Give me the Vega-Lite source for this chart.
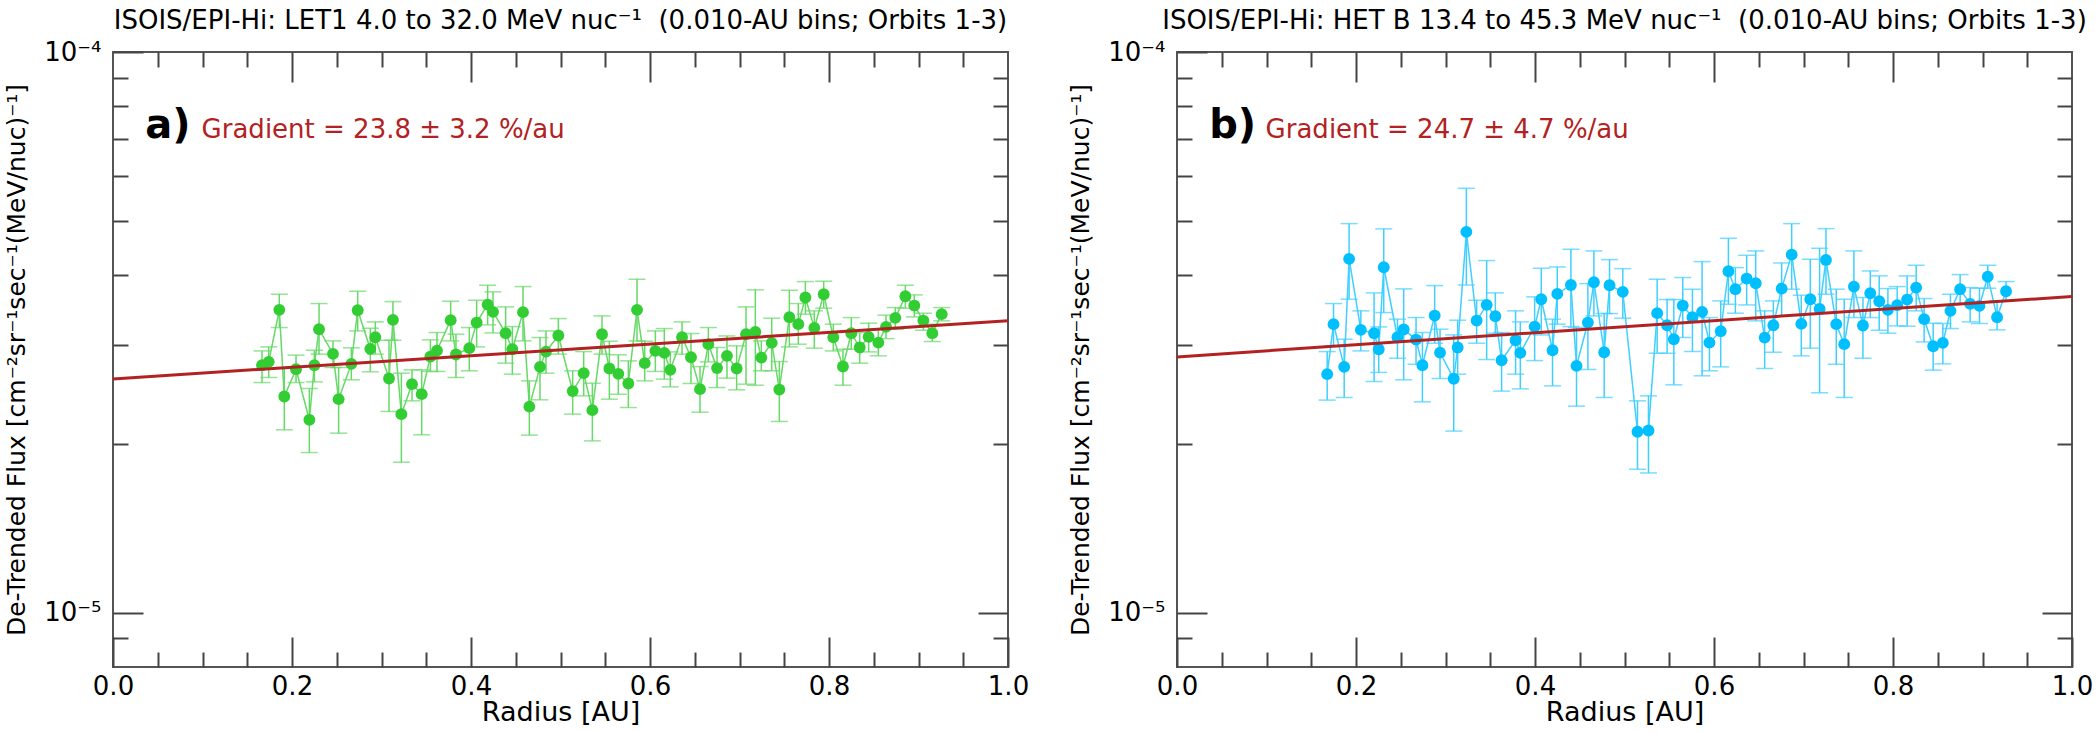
{
  "$schema": "https://vega.github.io/schema/vega-lite/v6.json",
  "background": "white",
  "padding": {"left": 3, "top": 7, "right": 5, "bottom": 0},
  "spacing": 169,
  "bounds": "flush",
  "datasets": {
    "let": [
      {"r": 0.1665, "flux": 2.763e-5, "lo": 2.573e-5, "hi": 2.930e-5},
      {"r": 0.1740, "flux": 2.801e-5, "lo": 2.627e-5, "hi": 2.979e-5},
      {"r": 0.1858, "flux": 3.468e-5, "lo": 3.225e-5, "hi": 3.698e-5},
      {"r": 0.1914, "flux": 2.430e-5, "lo": 2.119e-5, "hi": 2.737e-5},
      {"r": 0.2045, "flux": 2.718e-5, "lo": 2.573e-5, "hi": 2.879e-5},
      {"r": 0.2194, "flux": 2.208e-5, "lo": 1.930e-5, "hi": 2.511e-5},
      {"r": 0.2250, "flux": 2.763e-5, "lo": 2.580e-5, "hi": 2.938e-5},
      {"r": 0.2302, "flux": 3.203e-5, "lo": 2.891e-5, "hi": 3.559e-5},
      {"r": 0.2458, "flux": 2.894e-5, "lo": 2.737e-5, "hi": 3.053e-5},
      {"r": 0.2521, "flux": 2.403e-5, "lo": 2.090e-5, "hi": 2.737e-5},
      {"r": 0.2663, "flux": 2.778e-5, "lo": 2.602e-5, "hi": 2.967e-5},
      {"r": 0.2734, "flux": 3.463e-5, "lo": 3.181e-5, "hi": 3.744e-5},
      {"r": 0.2875, "flux": 2.955e-5, "lo": 2.689e-5, "hi": 3.216e-5},
      {"r": 0.2931, "flux": 3.099e-5, "lo": 2.891e-5, "hi": 3.301e-5},
      {"r": 0.3084, "flux": 2.616e-5, "lo": 2.285e-5, "hi": 3.061e-5},
      {"r": 0.3128, "flux": 3.328e-5, "lo": 3.061e-5, "hi": 3.588e-5},
      {"r": 0.3222, "flux": 2.260e-5, "lo": 1.855e-5, "hi": 2.674e-5},
      {"r": 0.3341, "flux": 2.556e-5, "lo": 2.387e-5, "hi": 2.711e-5},
      {"r": 0.3449, "flux": 2.453e-5, "lo": 2.076e-5, "hi": 2.711e-5},
      {"r": 0.3546, "flux": 2.863e-5, "lo": 2.693e-5, "hi": 3.066e-5},
      {"r": 0.3620, "flux": 2.934e-5, "lo": 2.693e-5, "hi": 3.160e-5},
      {"r": 0.3773, "flux": 3.324e-5, "lo": 3.053e-5, "hi": 3.593e-5},
      {"r": 0.3832, "flux": 2.887e-5, "lo": 2.627e-5, "hi": 3.138e-5},
      {"r": 0.3981, "flux": 2.963e-5, "lo": 2.700e-5, "hi": 3.225e-5},
      {"r": 0.4063, "flux": 3.292e-5, "lo": 2.979e-5, "hi": 3.608e-5},
      {"r": 0.4186, "flux": 3.544e-5, "lo": 3.261e-5, "hi": 3.837e-5},
      {"r": 0.4246, "flux": 3.440e-5, "lo": 3.155e-5, "hi": 3.734e-5},
      {"r": 0.4387, "flux": 3.151e-5, "lo": 2.786e-5, "hi": 3.511e-5},
      {"r": 0.4462, "flux": 2.950e-5, "lo": 2.663e-5, "hi": 3.238e-5},
      {"r": 0.4581, "flux": 3.435e-5, "lo": 3.053e-5, "hi": 3.816e-5},
      {"r": 0.4652, "flux": 2.331e-5, "lo": 2.073e-5, "hi": 2.591e-5},
      {"r": 0.4771, "flux": 2.744e-5, "lo": 2.397e-5, "hi": 3.095e-5},
      {"r": 0.4838, "flux": 2.922e-5, "lo": 2.674e-5, "hi": 3.181e-5},
      {"r": 0.4976, "flux": 3.121e-5, "lo": 2.891e-5, "hi": 3.346e-5},
      {"r": 0.5136, "flux": 2.484e-5, "lo": 2.260e-5, "hi": 2.700e-5},
      {"r": 0.5259, "flux": 2.674e-5, "lo": 2.436e-5, "hi": 2.922e-5},
      {"r": 0.5356, "flux": 2.297e-5, "lo": 2.025e-5, "hi": 2.566e-5},
      {"r": 0.5464, "flux": 3.138e-5, "lo": 2.891e-5, "hi": 3.383e-5},
      {"r": 0.5546, "flux": 2.726e-5, "lo": 2.403e-5, "hi": 3.049e-5},
      {"r": 0.5646, "flux": 2.667e-5, "lo": 2.453e-5, "hi": 2.883e-5},
      {"r": 0.5758, "flux": 2.563e-5, "lo": 2.322e-5, "hi": 2.813e-5},
      {"r": 0.5855, "flux": 3.468e-5, "lo": 3.053e-5, "hi": 3.933e-5},
      {"r": 0.5941, "flux": 2.786e-5, "lo": 2.591e-5, "hi": 3.049e-5},
      {"r": 0.6060, "flux": 2.930e-5, "lo": 2.693e-5, "hi": 3.181e-5},
      {"r": 0.6160, "flux": 2.906e-5, "lo": 2.609e-5, "hi": 3.212e-5},
      {"r": 0.6227, "flux": 2.711e-5, "lo": 2.528e-5, "hi": 2.918e-5},
      {"r": 0.6358, "flux": 3.099e-5, "lo": 2.891e-5, "hi": 3.301e-5},
      {"r": 0.6458, "flux": 2.855e-5, "lo": 2.563e-5, "hi": 3.147e-5},
      {"r": 0.6559, "flux": 2.504e-5, "lo": 2.278e-5, "hi": 2.748e-5},
      {"r": 0.6652, "flux": 3.012e-5, "lo": 2.801e-5, "hi": 3.225e-5},
      {"r": 0.6749, "flux": 2.730e-5, "lo": 2.521e-5, "hi": 2.971e-5},
      {"r": 0.6860, "flux": 2.871e-5, "lo": 2.620e-5, "hi": 3.116e-5},
      {"r": 0.6968, "flux": 2.726e-5, "lo": 2.497e-5, "hi": 2.991e-5},
      {"r": 0.7073, "flux": 3.138e-5, "lo": 2.556e-5, "hi": 3.511e-5},
      {"r": 0.7177, "flux": 3.168e-5, "lo": 2.545e-5, "hi": 3.765e-5},
      {"r": 0.7244, "flux": 2.851e-5, "lo": 2.700e-5, "hi": 3.053e-5},
      {"r": 0.7360, "flux": 3.028e-5, "lo": 2.700e-5, "hi": 3.351e-5},
      {"r": 0.7445, "flux": 2.500e-5, "lo": 2.193e-5, "hi": 2.805e-5},
      {"r": 0.7557, "flux": 3.365e-5, "lo": 2.979e-5, "hi": 3.759e-5},
      {"r": 0.7657, "flux": 3.270e-5, "lo": 3.012e-5, "hi": 3.559e-5},
      {"r": 0.7736, "flux": 3.648e-5, "lo": 3.407e-5, "hi": 3.895e-5},
      {"r": 0.7836, "flux": 3.221e-5, "lo": 2.963e-5, "hi": 3.454e-5},
      {"r": 0.7941, "flux": 3.698e-5, "lo": 3.492e-5, "hi": 3.901e-5},
      {"r": 0.8048, "flux": 3.099e-5, "lo": 2.930e-5, "hi": 3.270e-5},
      {"r": 0.8156, "flux": 2.748e-5, "lo": 2.545e-5, "hi": 2.950e-5},
      {"r": 0.8249, "flux": 3.151e-5, "lo": 2.950e-5, "hi": 3.360e-5},
      {"r": 0.8343, "flux": 2.971e-5, "lo": 2.786e-5, "hi": 3.160e-5},
      {"r": 0.8443, "flux": 3.104e-5, "lo": 2.918e-5, "hi": 3.283e-5},
      {"r": 0.8551, "flux": 3.032e-5, "lo": 2.871e-5, "hi": 3.203e-5},
      {"r": 0.8637, "flux": 3.234e-5, "lo": 3.082e-5, "hi": 3.393e-5},
      {"r": 0.8741, "flux": 3.355e-5, "lo": 3.203e-5, "hi": 3.501e-5},
      {"r": 0.8853, "flux": 3.668e-5, "lo": 3.492e-5, "hi": 3.837e-5},
      {"r": 0.8953, "flux": 3.530e-5, "lo": 3.369e-5, "hi": 3.688e-5},
      {"r": 0.9054, "flux": 3.319e-5, "lo": 3.190e-5, "hi": 3.421e-5},
      {"r": 0.9154, "flux": 3.151e-5, "lo": 3.045e-5, "hi": 3.270e-5},
      {"r": 0.9259, "flux": 3.407e-5, "lo": 3.315e-5, "hi": 3.501e-5}
    ],
    "het": [
      {"r": 0.1678, "flux": 2.663e-5, "lo": 2.394e-5, "hi": 2.922e-5},
      {"r": 0.1749, "flux": 3.270e-5, "lo": 2.991e-5, "hi": 3.559e-5},
      {"r": 0.1868, "flux": 2.744e-5, "lo": 2.420e-5, "hi": 3.074e-5},
      {"r": 0.1923, "flux": 4.275e-5, "lo": 3.623e-5, "hi": 4.942e-5},
      {"r": 0.2054, "flux": 3.194e-5, "lo": 2.930e-5, "hi": 3.454e-5},
      {"r": 0.2202, "flux": 3.151e-5, "lo": 2.584e-5, "hi": 3.718e-5},
      {"r": 0.2254, "flux": 2.950e-5, "lo": 2.682e-5, "hi": 3.234e-5},
      {"r": 0.2310, "flux": 4.131e-5, "lo": 3.430e-5, "hi": 4.836e-5},
      {"r": 0.2463, "flux": 3.099e-5, "lo": 2.843e-5, "hi": 3.338e-5},
      {"r": 0.2533, "flux": 3.199e-5, "lo": 2.602e-5, "hi": 3.780e-5},
      {"r": 0.2671, "flux": 3.070e-5, "lo": 2.774e-5, "hi": 3.360e-5},
      {"r": 0.2742, "flux": 2.763e-5, "lo": 2.377e-5, "hi": 3.160e-5},
      {"r": 0.2879, "flux": 3.388e-5, "lo": 3.024e-5, "hi": 3.832e-5},
      {"r": 0.2939, "flux": 2.910e-5, "lo": 2.616e-5, "hi": 3.203e-5},
      {"r": 0.3092, "flux": 2.613e-5, "lo": 2.108e-5, "hi": 3.129e-5},
      {"r": 0.3136, "flux": 2.971e-5, "lo": 2.663e-5, "hi": 3.324e-5},
      {"r": 0.3233, "flux": 4.776e-5, "lo": 3.841e-5, "hi": 5.713e-5},
      {"r": 0.3348, "flux": 3.319e-5, "lo": 3.024e-5, "hi": 3.608e-5},
      {"r": 0.3460, "flux": 3.539e-5, "lo": 2.828e-5, "hi": 4.246e-5},
      {"r": 0.3557, "flux": 3.379e-5, "lo": 3.151e-5, "hi": 3.718e-5},
      {"r": 0.3627, "flux": 2.820e-5, "lo": 2.484e-5, "hi": 3.160e-5},
      {"r": 0.3783, "flux": 3.061e-5, "lo": 2.663e-5, "hi": 3.454e-5},
      {"r": 0.3836, "flux": 2.906e-5, "lo": 2.507e-5, "hi": 3.301e-5},
      {"r": 0.3996, "flux": 3.238e-5, "lo": 2.816e-5, "hi": 3.658e-5},
      {"r": 0.4070, "flux": 3.623e-5, "lo": 3.129e-5, "hi": 4.114e-5},
      {"r": 0.4196, "flux": 2.938e-5, "lo": 2.538e-5, "hi": 3.338e-5},
      {"r": 0.4249, "flux": 3.703e-5, "lo": 3.270e-5, "hi": 4.136e-5},
      {"r": 0.4401, "flux": 3.841e-5, "lo": 3.238e-5, "hi": 4.448e-5},
      {"r": 0.4464, "flux": 2.755e-5, "lo": 2.335e-5, "hi": 3.225e-5},
      {"r": 0.4591, "flux": 3.292e-5, "lo": 2.715e-5, "hi": 3.863e-5},
      {"r": 0.4658, "flux": 3.885e-5, "lo": 3.383e-5, "hi": 4.418e-5},
      {"r": 0.4773, "flux": 2.914e-5, "lo": 2.420e-5, "hi": 3.416e-5},
      {"r": 0.4833, "flux": 3.837e-5, "lo": 3.416e-5, "hi": 4.263e-5},
      {"r": 0.4981, "flux": 3.734e-5, "lo": 3.351e-5, "hi": 4.108e-5},
      {"r": 0.5145, "flux": 2.102e-5, "lo": 1.802e-5, "hi": 2.387e-5},
      {"r": 0.5268, "flux": 2.113e-5, "lo": 1.775e-5, "hi": 2.436e-5},
      {"r": 0.5365, "flux": 3.421e-5, "lo": 2.902e-5, "hi": 3.933e-5},
      {"r": 0.5476, "flux": 3.256e-5, "lo": 2.902e-5, "hi": 3.618e-5},
      {"r": 0.5551, "flux": 3.074e-5, "lo": 2.549e-5, "hi": 3.618e-5},
      {"r": 0.5651, "flux": 3.530e-5, "lo": 3.095e-5, "hi": 3.960e-5},
      {"r": 0.5759, "flux": 3.365e-5, "lo": 2.922e-5, "hi": 3.775e-5},
      {"r": 0.5867, "flux": 3.440e-5, "lo": 2.645e-5, "hi": 4.228e-5},
      {"r": 0.5949, "flux": 3.032e-5, "lo": 2.700e-5, "hi": 3.360e-5},
      {"r": 0.6075, "flux": 3.177e-5, "lo": 2.744e-5, "hi": 3.598e-5},
      {"r": 0.6161, "flux": 4.064e-5, "lo": 3.549e-5, "hi": 4.653e-5},
      {"r": 0.6239, "flux": 3.775e-5, "lo": 3.421e-5, "hi": 4.125e-5},
      {"r": 0.6365, "flux": 3.944e-5, "lo": 3.539e-5, "hi": 4.339e-5},
      {"r": 0.6466, "flux": 3.868e-5, "lo": 3.315e-5, "hi": 4.418e-5},
      {"r": 0.6566, "flux": 3.095e-5, "lo": 2.726e-5, "hi": 3.454e-5},
      {"r": 0.6663, "flux": 3.256e-5, "lo": 2.914e-5, "hi": 3.598e-5},
      {"r": 0.6756, "flux": 3.785e-5, "lo": 3.383e-5, "hi": 4.205e-5},
      {"r": 0.6868, "flux": 4.351e-5, "lo": 3.775e-5, "hi": 4.942e-5},
      {"r": 0.6975, "flux": 3.274e-5, "lo": 2.871e-5, "hi": 3.683e-5},
      {"r": 0.7076, "flux": 3.623e-5, "lo": 2.963e-5, "hi": 4.269e-5},
      {"r": 0.7180, "flux": 3.482e-5, "lo": 2.467e-5, "hi": 4.466e-5},
      {"r": 0.7251, "flux": 4.257e-5, "lo": 3.698e-5, "hi": 4.842e-5},
      {"r": 0.7366, "flux": 3.270e-5, "lo": 2.774e-5, "hi": 3.775e-5},
      {"r": 0.7455, "flux": 3.012e-5, "lo": 2.420e-5, "hi": 3.623e-5},
      {"r": 0.7563, "flux": 3.816e-5, "lo": 3.360e-5, "hi": 4.418e-5},
      {"r": 0.7664, "flux": 3.252e-5, "lo": 2.843e-5, "hi": 3.648e-5},
      {"r": 0.7746, "flux": 3.713e-5, "lo": 3.360e-5, "hi": 4.069e-5},
      {"r": 0.7846, "flux": 3.593e-5, "lo": 3.190e-5, "hi": 3.987e-5},
      {"r": 0.7943, "flux": 3.468e-5, "lo": 3.151e-5, "hi": 3.785e-5},
      {"r": 0.8047, "flux": 3.535e-5, "lo": 3.247e-5, "hi": 3.816e-5},
      {"r": 0.8158, "flux": 3.618e-5, "lo": 3.243e-5, "hi": 3.987e-5},
      {"r": 0.8259, "flux": 3.800e-5, "lo": 3.454e-5, "hi": 4.165e-5},
      {"r": 0.8348, "flux": 3.338e-5, "lo": 3.040e-5, "hi": 3.633e-5},
      {"r": 0.8449, "flux": 2.987e-5, "lo": 2.707e-5, "hi": 3.283e-5},
      {"r": 0.8557, "flux": 3.028e-5, "lo": 2.778e-5, "hi": 3.279e-5},
      {"r": 0.8642, "flux": 3.454e-5, "lo": 3.212e-5, "hi": 3.698e-5},
      {"r": 0.8750, "flux": 3.775e-5, "lo": 3.559e-5, "hi": 4.009e-5},
      {"r": 0.8862, "flux": 3.554e-5, "lo": 3.301e-5, "hi": 3.800e-5},
      {"r": 0.8966, "flux": 3.525e-5, "lo": 3.279e-5, "hi": 3.790e-5},
      {"r": 0.9059, "flux": 3.976e-5, "lo": 3.790e-5, "hi": 4.165e-5},
      {"r": 0.9163, "flux": 3.365e-5, "lo": 3.194e-5, "hi": 3.598e-5},
      {"r": 0.9263, "flux": 3.744e-5, "lo": 3.598e-5, "hi": 3.895e-5}
    ],
    "fit_let": [
      {"r": 0.0, "flux": 2.612e-5},
      {"r": 1.0, "flux": 3.315e-5}
    ],
    "fit_het": [
      {"r": 0.0, "flux": 2.859e-5},
      {"r": 1.0, "flux": 3.663e-5}
    ]
  },
  "hconcat": [
    {
      "width": 895,
      "height": 615,
      "title": {"text": "ISOIS/EPI-Hi: LET1 4.0 to 32.0 MeV nuc⁻¹\u00a0\u00a0(0.010-AU bins; Orbits 1-3)"},
      "layer": [
        {
          "data": {"name": "let"},
          "mark": {"type": "errorbar", "color": "#66d966", "thickness": 1.5, "ticks": {"size": 17, "thickness": 1.5}},
          "encoding": {
            "x": {"field": "r", "type": "quantitative", "scale": {"domain": [0, 1], "nice": false, "zero": false},
              "axis": {"orient": "top", "values": [0.05, 0.1, 0.15, 0.25, 0.3, 0.35, 0.45, 0.5, 0.55, 0.65, 0.7, 0.75, 0.85, 0.9, 0.95], "tickSize": -15, "labels": false, "title": null}},
            "y": {"field": "lo", "type": "quantitative", "scale": {"type": "log", "domain": [8e-6, 1e-4], "nice": false},
              "axis": {"orient": "right", "values": [9e-6, 2e-5, 3e-5, 4e-5, 5e-5, 6e-5, 7e-5, 8e-5, 9e-5], "tickSize": -15, "labels": false, "title": null}},
            "y2": {"field": "hi"}
          }
        },
        {
          "data": {"name": "let"},
          "mark": {"type": "line", "color": "#66d966", "strokeWidth": 1.5},
          "encoding": {
            "x": {"field": "r", "type": "quantitative", "scale": {"domain": [0, 1], "nice": false, "zero": false},
              "axis": {"orient": "bottom", "values": [0, 0.2, 0.4, 0.6, 0.8, 1.0], "format": ".1f", "tickSize": -30, "labelPadding": 36, "title": "Radius [AU]"}},
            "y": {"field": "flux", "type": "quantitative", "scale": {"type": "log", "domain": [8e-6, 1e-4], "nice": false},
              "axis": {"orient": "left", "values": [1e-5, 1e-4], "labelExpr": "datum.value < 3e-5 ? '10⁻⁵' : '10⁻⁴'", "tickSize": -30, "labelPadding": 42, "title": "De-Trended Flux [cm⁻²sr⁻¹sec⁻¹(MeV/nuc)⁻¹]"}}
          }
        },
        {
          "data": {"name": "let"},
          "mark": {"type": "circle", "color": "#32cd32", "opacity": 1, "size": 140},
          "encoding": {
            "x": {"field": "r", "type": "quantitative",
              "axis": {"orient": "bottom", "values": [0.05, 0.1, 0.15, 0.25, 0.3, 0.35, 0.45, 0.5, 0.55, 0.65, 0.7, 0.75, 0.85, 0.9, 0.95], "tickSize": -15, "labels": false, "title": null}},
            "y": {"field": "flux", "type": "quantitative",
              "axis": {"orient": "left", "values": [9e-6, 2e-5, 3e-5, 4e-5, 5e-5, 6e-5, 7e-5, 8e-5, 9e-5], "tickSize": -15, "labels": false, "title": null}}
          }
        },
        {
          "data": {"name": "fit_let"},
          "mark": {"type": "line", "color": "#b22222", "strokeWidth": 3},
          "encoding": {
            "x": {"field": "r", "type": "quantitative",
              "axis": {"orient": "top", "values": [0.2, 0.4, 0.6, 0.8], "tickSize": -30, "labels": false, "title": null}},
            "y": {"field": "flux", "type": "quantitative",
              "axis": {"orient": "right", "values": [1e-5], "tickSize": -30, "labels": false, "title": null}}
          }
        },
        {
          "data": {"values": [{}]},
          "mark": {"type": "text", "text": "a)", "align": "left", "baseline": "alphabetic", "font": "DejaVu Sans", "fontWeight": "bold", "fontSize": 40, "color": "black"},
          "encoding": {
            "x": {"datum": 0.036, "type": "quantitative", "axis": null},
            "y": {"datum": 7.03e-5, "type": "quantitative", "axis": null}
          }
        },
        {
          "data": {"values": [{}]},
          "mark": {"type": "text", "text": "Gradient = 23.8 ± 3.2 %/au", "align": "left", "baseline": "alphabetic", "font": "DejaVu Sans", "fontSize": 26, "color": "#b22222"},
          "encoding": {
            "x": {"datum": 0.099, "type": "quantitative", "axis": null},
            "y": {"datum": 7.03e-5, "type": "quantitative", "axis": null}
          }
        }
      ],
      "resolve": {"axis": {"x": "independent", "y": "independent"}}
    },
    {
      "width": 895,
      "height": 615,
      "title": {"text": "ISOIS/EPI-Hi: HET B 13.4 to 45.3 MeV nuc⁻¹\u00a0\u00a0(0.010-AU bins; Orbits 1-3)"},
      "layer": [
        {
          "data": {"name": "het"},
          "mark": {"type": "errorbar", "color": "#40cfff", "thickness": 1.5, "ticks": {"size": 17, "thickness": 1.5}},
          "encoding": {
            "x": {"field": "r", "type": "quantitative", "scale": {"domain": [0, 1], "nice": false, "zero": false},
              "axis": {"orient": "top", "values": [0.05, 0.1, 0.15, 0.25, 0.3, 0.35, 0.45, 0.5, 0.55, 0.65, 0.7, 0.75, 0.85, 0.9, 0.95], "tickSize": -15, "labels": false, "title": null}},
            "y": {"field": "lo", "type": "quantitative", "scale": {"type": "log", "domain": [8e-6, 1e-4], "nice": false},
              "axis": {"orient": "right", "values": [9e-6, 2e-5, 3e-5, 4e-5, 5e-5, 6e-5, 7e-5, 8e-5, 9e-5], "tickSize": -15, "labels": false, "title": null}},
            "y2": {"field": "hi"}
          }
        },
        {
          "data": {"name": "het"},
          "mark": {"type": "line", "color": "#40cfff", "strokeWidth": 1.5},
          "encoding": {
            "x": {"field": "r", "type": "quantitative", "scale": {"domain": [0, 1], "nice": false, "zero": false},
              "axis": {"orient": "bottom", "values": [0, 0.2, 0.4, 0.6, 0.8, 1.0], "format": ".1f", "tickSize": -30, "labelPadding": 36, "title": "Radius [AU]"}},
            "y": {"field": "flux", "type": "quantitative", "scale": {"type": "log", "domain": [8e-6, 1e-4], "nice": false},
              "axis": {"orient": "left", "values": [1e-5, 1e-4], "labelExpr": "datum.value < 3e-5 ? '10⁻⁵' : '10⁻⁴'", "tickSize": -30, "labelPadding": 42, "title": "De-Trended Flux [cm⁻²sr⁻¹sec⁻¹(MeV/nuc)⁻¹]"}}
          }
        },
        {
          "data": {"name": "het"},
          "mark": {"type": "circle", "color": "#00bfff", "opacity": 1, "size": 140},
          "encoding": {
            "x": {"field": "r", "type": "quantitative",
              "axis": {"orient": "bottom", "values": [0.05, 0.1, 0.15, 0.25, 0.3, 0.35, 0.45, 0.5, 0.55, 0.65, 0.7, 0.75, 0.85, 0.9, 0.95], "tickSize": -15, "labels": false, "title": null}},
            "y": {"field": "flux", "type": "quantitative",
              "axis": {"orient": "left", "values": [9e-6, 2e-5, 3e-5, 4e-5, 5e-5, 6e-5, 7e-5, 8e-5, 9e-5], "tickSize": -15, "labels": false, "title": null}}
          }
        },
        {
          "data": {"name": "fit_het"},
          "mark": {"type": "line", "color": "#b22222", "strokeWidth": 3},
          "encoding": {
            "x": {"field": "r", "type": "quantitative",
              "axis": {"orient": "top", "values": [0.2, 0.4, 0.6, 0.8], "tickSize": -30, "labels": false, "title": null}},
            "y": {"field": "flux", "type": "quantitative",
              "axis": {"orient": "right", "values": [1e-5], "tickSize": -30, "labels": false, "title": null}}
          }
        },
        {
          "data": {"values": [{}]},
          "mark": {"type": "text", "text": "b)", "align": "left", "baseline": "alphabetic", "font": "DejaVu Sans", "fontWeight": "bold", "fontSize": 40, "color": "black"},
          "encoding": {
            "x": {"datum": 0.036, "type": "quantitative", "axis": null},
            "y": {"datum": 7.03e-5, "type": "quantitative", "axis": null}
          }
        },
        {
          "data": {"values": [{}]},
          "mark": {"type": "text", "text": "Gradient = 24.7 ± 4.7 %/au", "align": "left", "baseline": "alphabetic", "font": "DejaVu Sans", "fontSize": 26, "color": "#b22222"},
          "encoding": {
            "x": {"datum": 0.099, "type": "quantitative", "axis": null},
            "y": {"datum": 7.03e-5, "type": "quantitative", "axis": null}
          }
        }
      ],
      "resolve": {"axis": {"x": "independent", "y": "independent"}}
    }
  ],
  "config": {
    "view": {"stroke": "#555555", "strokeWidth": 2},
    "title": {"font": "DejaVu Sans", "fontSize": 26, "fontWeight": "normal", "color": "black", "offset": 5, "anchor": "middle"},
    "axis": {
      "domain": false,
      "grid": false,
      "tickColor": "#444444",
      "tickWidth": 2,
      "labelFont": "DejaVu Sans",
      "labelFontSize": 26,
      "labelColor": "black",
      "labelFlush": false,
      "labelOverlap": false,
      "titleFont": "DejaVu Sans",
      "titleFontSize": 27,
      "titleFontWeight": "normal",
      "titleColor": "black",
      "titlePadding": 0
    },
    "axisY": {"titleFontSize": 25, "titlePadding": 14}
  }
}
